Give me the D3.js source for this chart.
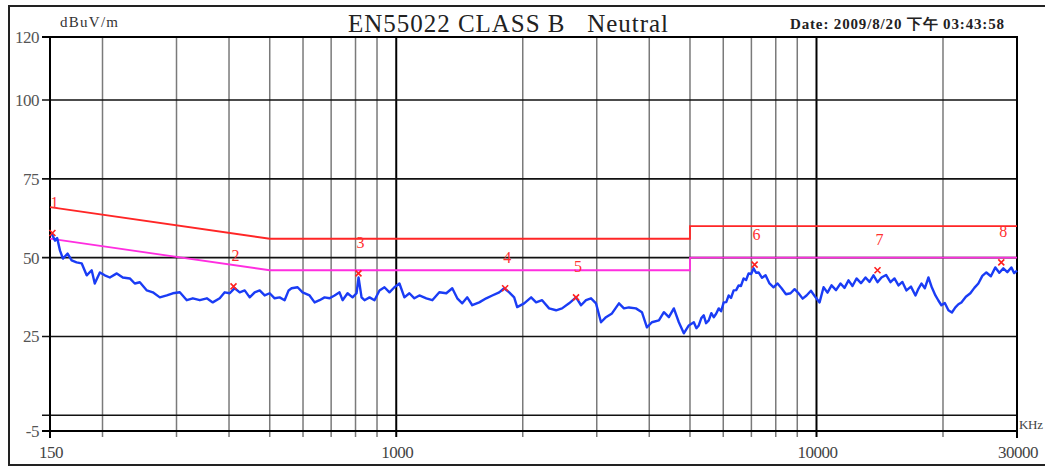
<!DOCTYPE html>
<html>
<head>
<meta charset="utf-8">
<script src="https://cdn.jsdelivr.net/npm/d3@7"></script>
<style>
  body { margin: 0; background: #fff; }
  svg { display: block; font-family: "Liberation Serif", "Times New Roman", Times, serif; }
</style>
</head>
<body>
<div id="chart"></div>
<script>
// measured trace (kHz, dBuV/m)
const traceFreq = [151.4, 154.2, 156.0, 158.4, 161.0, 165.2, 168.9, 173.5, 178.4, 183.4, 188.5, 191.7, 197.1, 202.5, 208.2, 216.3, 223.5, 232.3, 238.7, 245.4, 255.0, 263.5, 273.8, 284.5, 294.0, 305.5, 317.4, 328.1, 340.9, 354.2, 365.9, 380.2, 390.7, 401.6, 412.7, 424.1, 435.9, 448.0, 460.4, 473.2, 486.3, 499.8, 513.6, 527.9, 542.5, 554.5, 563.6, 582.5, 598.6, 622.0, 639.3, 657.0, 675.2, 693.9, 713.2, 732.9, 745.2, 765.8, 787.1, 804.5, 813.4, 826.9, 840.5, 863.8, 887.7, 912.2, 937.5, 963.5, 990.1, 1017.6, 1045.7, 1074.6, 1104.4, 1135.0, 1179.2, 1218.4, 1266.1, 1315.5, 1359.3, 1397.1, 1435.8, 1475.7, 1516.6, 1576.0, 1637.5, 1692.2, 1757.9, 1806.7, 1856.8, 1908.2, 1939.7, 2015.6, 2094.0, 2152.0, 2223.6, 2310.4, 2400.7, 2480.6, 2577.7, 2678.4, 2752.7, 2828.9, 2907.2, 2987.7, 3070.5, 3155.5, 3260.9, 3388.1, 3482.0, 3578.4, 3718.0, 3842.3, 3949, 4058, 4217, 4334, 4454, 4577, 4704, 4834, 4968, 5106, 5180, 5247, 5320, 5392, 5460, 5542, 5620, 5695, 5770, 5853, 5930, 6015, 6100, 6181, 6260, 6352, 6440, 6528, 6610, 6708, 6800, 6894, 6990, 7085, 7180, 7281, 7420, 7566, 7730, 7904, 8080, 8258, 8460, 8675, 8870, 9064, 9270, 9470, 9700, 9950, 10170, 10395, 10620, 10860, 11130, 11408, 11660, 11918, 12180, 12452, 12760, 13081, 13370, 13666, 13970, 14278, 14640, 15000, 15330, 15672, 16010, 16372, 16780, 17199, 17480, 17773, 18110, 18466, 18820, 19187, 19500, 19826, 20200, 20600, 21000, 21404, 21760, 22118, 22670, 23234, 23750, 24274, 24810, 25360, 26000, 26643, 27230, 27835, 28450, 29080, 29540, 30000];
const traceLevel = [57.6, 55.4, 56.2, 52.3, 49.7, 51.3, 49.1, 48.5, 48.2, 44.4, 46.0, 41.8, 45.3, 44.4, 43.7, 45.0, 43.7, 43.4, 41.8, 42.2, 39.6, 39.0, 37.4, 38.0, 38.7, 39.0, 36.5, 37.1, 36.5, 37.1, 35.8, 37.1, 39.0, 38.7, 40.3, 39.0, 39.6, 37.4, 39.0, 39.6, 38.0, 38.7, 37.1, 37.4, 36.5, 39.6, 40.3, 40.6, 39.0, 38.0, 35.8, 36.5, 37.4, 37.1, 38.0, 39.0, 36.5, 38.7, 37.4, 38.7, 43.7, 37.4, 36.5, 37.4, 36.5, 39.6, 40.6, 39.0, 40.6, 41.8, 37.4, 38.7, 37.1, 38.0, 37.1, 36.5, 39.0, 38.7, 40.3, 37.1, 35.5, 37.4, 34.9, 35.8, 37.1, 38.0, 39.0, 40.3, 39.0, 37.4, 34.3, 35.5, 37.4, 35.8, 36.5, 33.9, 33.3, 33.9, 35.5, 37.4, 34.9, 36.5, 37.1, 35.5, 29.5, 31.1, 32.3, 35.5, 33.9, 34.2, 33.9, 32.7, 27.9, 29.5, 30.1, 32.7, 31.1, 33.9, 29.5, 26.0, 28.5, 29.5, 27.6, 28.5, 30.8, 31.7, 29.2, 30.1, 32.4, 31.1, 32.2, 33.9, 33.0, 35.8, 35.9, 38.0, 37.2, 39.6, 39.7, 41.2, 41.0, 43.4, 42.9, 45.0, 44.8, 46.6, 45.2, 45.3, 43.6, 44.4, 41.8, 40.6, 41.8, 40.3, 38.4, 38.7, 40.0, 38.7, 37.0, 38.0, 39.5, 37.4, 35.8, 40.6, 38.9, 41.2, 39.7, 41.8, 40.4, 42.8, 41.0, 43.4, 41.9, 43.7, 42.3, 44.4, 42.2, 43.7, 44.5, 42.2, 43.4, 41.2, 42.3, 39.6, 40.8, 38.0, 40.1, 41.8, 40.3, 43.7, 40.5, 38.0, 36.4, 34.9, 35.6, 33.3, 32.6, 34.2, 35.2, 35.8, 37.6, 38.7, 40.4, 41.8, 44.2, 45.3, 44.1, 46.9, 45.2, 46.6, 45.4, 46.9, 45.1, 45.9];

// EN55022 class B limits
const qpFreq = [150, 500, 5000, 5000, 30000];
const qpLevel = [66, 56, 56, 60, 60];
const avFreq = [150, 500, 5000, 5000, 30000];
const avLevel = [56, 46, 46, 50, 50];

// peak markers
const markerFreq = [152, 410, 813, 1816, 2678, 7125, 13970, 27525];
const markerLevel = [57.8, 40.9, 45.0, 40.3, 37.4, 47.8, 46.0, 48.5];
const markerName = ['1', '2', '3', '4', '5', '6', '7', '8'];

const gridFreq = [200, 300, 400, 500, 600, 700, 800, 900, 1000, 2000, 3000, 4000, 5000, 6000, 7000, 8000, 9000, 10000, 20000];
const xTickLabels = [150, 1000, 10000, 30000];
const yGridValues = [100, 75, 50, 25, 0];
const yTickLabels = [120, 100, 75, 50, 25, -5];

const width = 1045;
const height = 466;

const svg = d3.select('#chart')
  .append('svg')
  .attr('width', width)
  .attr('height', height);

const x = d3.scaleLog().domain([150, 30000]).range([50, 1017]);
const y = d3.scaleLinear().domain([-5, 120]).range([431, 37]);

// outer frame
svg.append('rect')
  .attr('x', 9).attr('y', 6)
  .attr('width', 1060).attr('height', 459)
  .attr('fill', 'none')
  .attr('stroke', '#222')
  .attr('stroke-width', 2);

// titles
svg.append('text')
  .attr('x', 508).attr('y', 32)
  .attr('text-anchor', 'middle')
  .attr('font-size', 25)
  .attr('fill', '#222')
  .attr('textLength', 320)
  .attr('xml:space', 'preserve')
  .text('EN55022 CLASS B   Neutral');

svg.append('text')
  .attr('x', 60).attr('y', 27)
  .attr('font-size', 15)
  .attr('fill', '#333')
  .attr('textLength', 58)
  .text('dBuV/m');

svg.append('text')
  .attr('x', 790).attr('y', 29)
  .attr('font-size', 15)
  .attr('font-weight', 'bold')
  .attr('fill', '#222')
  .attr('textLength', 214)
  .text('Date: 2009/8/20 下午 03:43:58');

// vertical grid
const grid = svg.append('g');
grid.selectAll('.vgrid')
  .data(gridFreq)
  .enter()
  .append('line')
  .attr('class', 'vgrid')
  .attr('x1', d => x(d)).attr('x2', d => x(d))
  .attr('y1', y(120)).attr('y2', y(-5) + 6)
  .attr('stroke', d => (d === 1000 || d === 10000) ? '#000' : '#7a7a7a')
  .attr('stroke-width', d => (d === 1000 || d === 10000) ? 2 : 1.5);

// horizontal grid
grid.selectAll('.hgrid')
  .data(yGridValues)
  .enter()
  .append('line')
  .attr('class', 'hgrid')
  .attr('x1', x(150) - 8).attr('x2', x(30000))
  .attr('y1', d => y(d)).attr('y2', d => y(d))
  .attr('stroke', '#111')
  .attr('stroke-width', 1.6);

// plot border
svg.append('line')
  .attr('x1', x(150) - 8).attr('x2', x(30000) + 1)
  .attr('y1', y(120)).attr('y2', y(120))
  .attr('stroke', '#000').attr('stroke-width', 2);
svg.append('line')
  .attr('x1', x(150) - 8).attr('x2', x(30000) + 1)
  .attr('y1', y(-5)).attr('y2', y(-5))
  .attr('stroke', '#000').attr('stroke-width', 2);
svg.append('line')
  .attr('x1', x(150)).attr('x2', x(150))
  .attr('y1', y(120)).attr('y2', y(-5) + 7)
  .attr('stroke', '#000').attr('stroke-width', 2);
svg.append('line')
  .attr('x1', x(30000)).attr('x2', x(30000))
  .attr('y1', y(120)).attr('y2', y(-5) + 7)
  .attr('stroke', '#000').attr('stroke-width', 2);

// y tick labels
svg.selectAll('.ylabel')
  .data(yTickLabels)
  .enter()
  .append('text')
  .attr('class', 'ylabel')
  .attr('x', 39)
  .attr('y', d => y(d) + 6)
  .attr('text-anchor', 'end')
  .attr('font-size', 17)
  .attr('fill', '#555')
  .attr('letter-spacing', -0.5)
  .text(d => d);

// x tick labels
svg.selectAll('.xlabel')
  .data(xTickLabels)
  .enter()
  .append('text')
  .attr('class', 'xlabel')
  .attr('x', d => x(d) + 1)
  .attr('y', 458)
  .attr('text-anchor', 'middle')
  .attr('font-size', 17)
  .attr('fill', '#444')
  .attr('letter-spacing', -0.5)
  .text(d => d);

svg.append('text')
  .attr('x', 1019).attr('y', 429)
  .attr('font-size', 13)
  .attr('fill', '#444')
  .attr('textLength', 24)
  .text('KHz');

// limit lines
const line = d3.line()
  .x(d => x(d[0]))
  .y(d => y(d[1]));

svg.append('path')
  .attr('d', line(d3.zip(qpFreq, qpLevel)))
  .attr('fill', 'none')
  .attr('stroke', '#ff2626')
  .attr('stroke-width', 1.8);

svg.append('path')
  .attr('d', line(d3.zip(avFreq, avLevel)))
  .attr('fill', 'none')
  .attr('stroke', '#ff2ee0')
  .attr('stroke-width', 1.8);

// trace
svg.append('path')
  .attr('d', line(d3.zip(traceFreq, traceLevel)))
  .attr('fill', 'none')
  .attr('stroke', '#1a3cf5')
  .attr('stroke-width', 2.4)
  .attr('stroke-linejoin', 'round');

// markers
const markers = d3.zip(markerFreq, markerLevel, markerName);
const mk = svg.selectAll('.marker')
  .data(markers)
  .enter()
  .append('g')
  .attr('class', 'marker')
  .attr('transform', d => `translate(${x(d[0])},${y(d[1])})`);

mk.append('path')
  .attr('d', 'M-3,-3L3,3M-3,3L3,-3')
  .attr('stroke', '#ff2020')
  .attr('stroke-width', 1.6);

mk.append('text')
  .attr('x', 2)
  .attr('y', -25)
  .attr('text-anchor', 'middle')
  .attr('font-size', 16)
  .attr('fill', '#ff3030')
  .text(d => d[2]);
</script>
</body>
</html>
